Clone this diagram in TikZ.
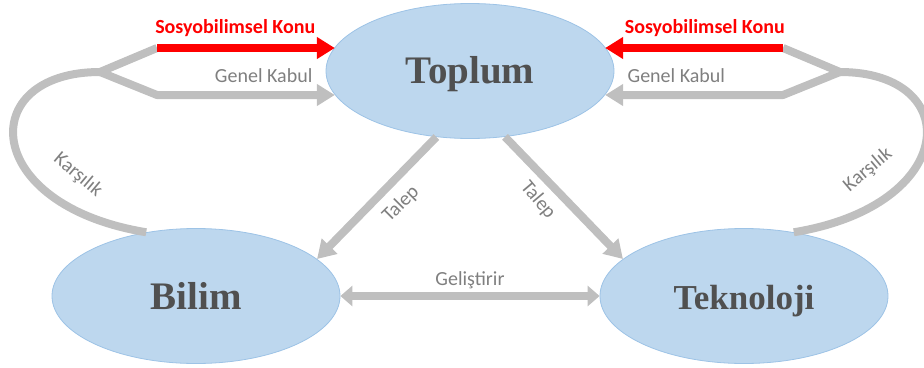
\documentclass[tikz,border=0pt]{standalone}
\usepackage{fontspec}
\setmainfont{Liberation Serif}
\setsansfont{Carlito}
\usetikzlibrary{arrows.meta,shapes.geometric}

\definecolor{ellfill}{HTML}{BDD7EE}
\definecolor{ellline}{HTML}{9DC3E6}
\definecolor{bandgray}{HTML}{BFBFBF}
\definecolor{labelgray}{HTML}{7F7F7F}
\definecolor{konured}{HTML}{FF0000}
\definecolor{titlegray}{HTML}{505050}

\tikzset{
  konu/.style={ellipse, draw=ellline, fill=ellfill, line width=0.8pt,
    minimum width=288pt, minimum height=135pt, inner sep=0pt,
    font=\fontsize{39}{42}\selectfont\bfseries, text=titlegray},
  band/.style={draw=bandgray, line width=8pt},
  bandarrow/.style={band, line join=round, -{Triangle[width=21pt,length=18pt]}},
  lbl/.style={font=\sffamily\fontsize{20}{22}\selectfont, text=labelgray, inner sep=1pt},
}

\begin{document}
\begin{tikzpicture}[x=1pt,y=-1pt]
\useasboundingbox (0,0) rectangle (924,367);

% the three topics
\node [konu, text height=34pt, text depth=9pt] (toplum) at (470,71) {Toplum};
\node [konu] (bilim) at (196,296) {Bilim};
\node [konu, font=\fontsize{35}{38}\selectfont\bfseries, text height=34pt, text depth=8pt] (tekno) at (744,296) {Teknoloji};

% forks of the side loops
\coordinate (forkL) at (100,72);
\coordinate (kL1) at (157,48);
\coordinate (kL2) at (157,95);
\coordinate (forkR) at (840,72);
\coordinate (kR1) at (783,48);
\coordinate (kR2) at (783,95);

% left loop
\draw [band] (forkL) .. controls (-25,72) and (-20,205) .. (bilim.128);
\draw [band, line join=miter] (kL1) -- (forkL);
\draw [bandarrow] (forkL) -- (kL2) -- (kL2 -| toplum.190)
  node [lbl, pos=0.6, above=7pt] {Genel Kabul};
\draw [bandarrow, draw=konured] (kL1) -- (kL1 -| toplum.170)
  node [lbl, pos=0.44, above=6pt, text=konured] {\bfseries Sosyobilimsel Konu};
\node [lbl, rotate=-40] (karL) at (78,175) {Karşılık};

% right loop
\draw [band] (forkR) .. controls (965,72) and (960,205) .. (tekno.52);
\draw [band, line join=miter] (kR1) -- (forkR);
\draw [bandarrow] (forkR) -- (kR2) -- (kR2 -| toplum.350)
  node [lbl, pos=0.6, above=7pt] {Genel Kabul};
\draw [bandarrow, draw=konured] (kR1) -- (kR1 -| toplum.10)
  node [lbl, pos=0.44, above=6pt, text=konured] {\bfseries Sosyobilimsel Konu};
\node [lbl, rotate=40] (karR) at (868,170) {Karşılık};

% demands and development
\draw [bandarrow] (toplum.243) -- (bilim.17);
\node [lbl, rotate=45] (talepL) at (401,204) {Talep};
\draw [bandarrow] (toplum.298) -- (tekno.163);
\node [lbl, rotate=-50] (talepR) at (538,200) {Talep};
\draw [band, {Triangle[width=20pt,length=12pt]}-{Triangle[width=20pt,length=12pt]}]
  (bilim.east) -- (tekno.west);
\node [lbl] (gelis) at (470,280) {Geliştirir};
\end{tikzpicture}
\end{document}
